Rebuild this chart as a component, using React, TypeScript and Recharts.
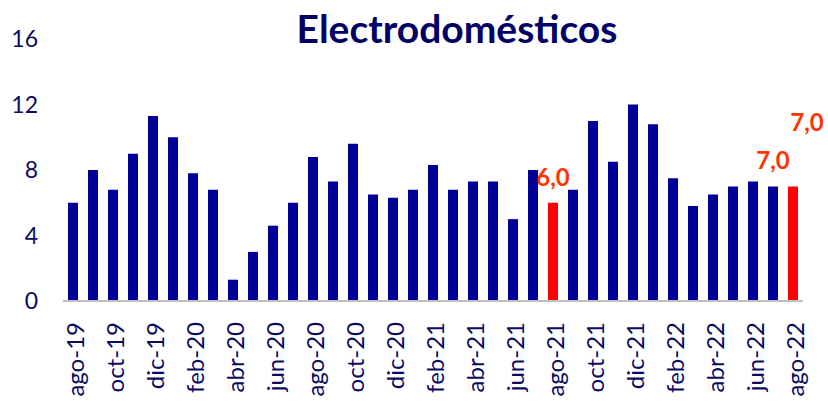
import React from "react";
import { BarChart, Bar, XAxis, YAxis, Cell, LabelList } from "recharts";

const months = [
  "ago-19", "sep-19", "oct-19", "nov-19", "dic-19", "ene-20", "feb-20", "mar-20",
  "abr-20", "may-20", "jun-20", "jul-20", "ago-20", "sep-20", "oct-20", "nov-20",
  "dic-20", "ene-21", "feb-21", "mar-21", "abr-21", "may-21", "jun-21", "jul-21",
  "ago-21", "sep-21", "oct-21", "nov-21", "dic-21", "ene-22", "feb-22", "mar-22",
  "abr-22", "may-22", "jun-22", "jul-22", "ago-22",
];

const values = [
  6.0, 8.0, 6.8, 9.0, 11.3, 10.0, 7.8, 6.8,
  1.3, 3.0, 4.6, 6.0, 8.8, 7.3, 9.6, 6.5,
  6.3, 6.8, 8.3, 6.8, 7.3, 7.3, 5.0, 8.0,
  6.0, 6.8, 11.0, 8.5, 12.0, 10.8, 7.5, 5.8,
  6.5, 7.0, 7.3, 7.0, 7.0,
];

const highlighted = ["ago-21", "ago-22"];
const labelled = ["ago-21", "jul-22", "ago-22"];
const yTicks = [0, 4, 8, 12, 16];

const NAVY = "#000099";
const RED = "#ff0000";
const LABEL_RED = "#ff3300";
const TEXT = "#0a0a64";
const FONT = "Lato, 'Open Sans', sans-serif";

const data = months.map((m, i) => ({
  month: m,
  value: values[i],
  label: labelled.includes(m) ? values[i].toFixed(1).replace(".", ",") : "",
}));

const XTick = (props: any) => {
  const { x, y, payload } = props;
  return (
    <text
      x={0}
      y={0}
      transform={`translate(${x + 2},${y + 21}) rotate(-90)`}
      textAnchor="end"
      dy="0.36em"
      fill={TEXT}
      fontSize={24}
      fontFamily={FONT}
    >
      {payload.value}
    </text>
  );
};

const ValueLabel = (props: any) => {
  const { x, y, width, value, index } = props;
  if (!value) return null;
  const last = index === months.length - 1;
  const cx = x + width / 2 + (last ? 14 : 0);
  const cy = last ? y - 55 : y - 17;
  return (
    <text
      x={cx}
      y={cy}
      textAnchor="middle"
      fill={LABEL_RED}
      fontSize={24}
      fontWeight={700}
      fontFamily={FONT}
    >
      {value}
    </text>
  );
};

export default function App() {
  return (
    <div style={{ position: "absolute", left: 0, top: 0, width: 828, height: 401, background: "#fff" }}>
      <BarChart
        width={828}
        height={401}
        data={data}
        margin={{ top: 39, right: 25, bottom: 0, left: 0 }}
        barSize={10}
      >
        <text
          x={457}
          y={43}
          textAnchor="middle"
          fill="#000066"
          fontSize={39}
          fontWeight={700}
          fontFamily={FONT}
        >
          Electrodomésticos
        </text>
        <XAxis
          dataKey="month"
          interval={1}
          height={100}
          tickLine={false}
          tickSize={0}
          tickMargin={0}
          axisLine={{ stroke: "#bfbfbf", strokeWidth: 2 }}
          tick={<XTick />}
        />
        <YAxis
          domain={[0, 16]}
          ticks={yTicks}
          width={63}
          axisLine={false}
          tickLine={false}
          tickSize={0}
          tickMargin={25}
          tick={{ fill: TEXT, fontSize: 23, fontFamily: FONT }}
        />
        <Bar dataKey="value" isAnimationActive={false}>
          {data.map((d) => (
            <Cell key={d.month} fill={highlighted.includes(d.month) ? RED : NAVY} />
          ))}
          <LabelList dataKey="label" content={<ValueLabel />} />
        </Bar>
      </BarChart>
    </div>
  );
}
